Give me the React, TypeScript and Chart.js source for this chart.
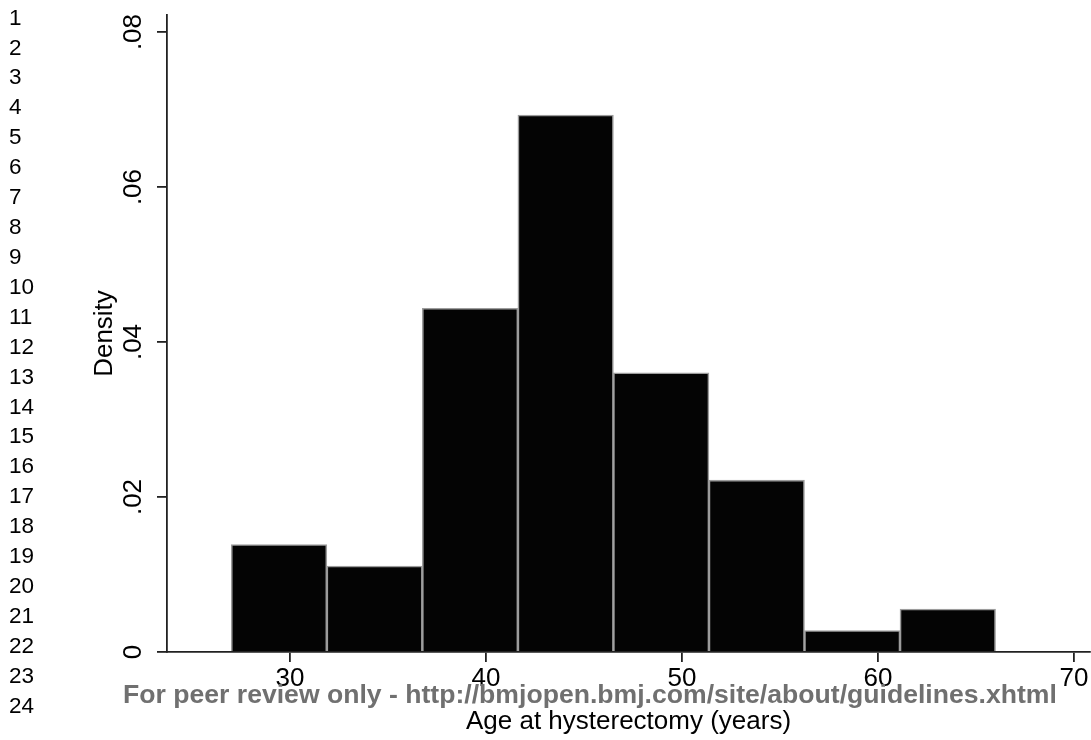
import React, { useEffect, useRef } from "react";
import { Chart, registerables } from "chart.js";

Chart.register(...registerables);

// Histogram: bin start edges (years) and density per bin
const binStarts = [27, 31.875, 36.75, 41.625, 46.5, 51.375, 56.25, 61.125];
const binWidth = 4.875;
const densities = [0.01386, 0.01109, 0.04435, 0.0693, 0.03604, 0.02218, 0.00277, 0.00554];

const xTicks = [30, 40, 50, 60, 70];
const yTicks = [0, 0.02, 0.04, 0.06, 0.08];

const xTitle = "Age at hysterectomy (years)";
const yTitle = "Density";
const watermark = "For peer review only - http://bmjopen.bmj.com/site/about/guidelines.xhtml";
const lineNumbers = Array.from({ length: 24 }, (_, i) => String(i + 1));

const FONT = "'Liberation Sans', Arial, Helvetica, sans-serif";

export default function App() {
  const ref = useRef<HTMLCanvasElement | null>(null);

  useEffect(() => {
    document.body.style.margin = "0";
    const canvas = ref.current;
    if (!canvas) return;
    const points = binStarts.map((s, i) => ({ x: s + binWidth / 2, y: densities[i] }));
    const chart = new Chart(canvas, {
      type: "bar",
      data: {
        datasets: [
          {
            data: points as any,
            backgroundColor: "#040404",
            borderColor: "#9c9c9c",
            borderWidth: 1.6,
            borderSkipped: "bottom",
            barPercentage: 1,
            categoryPercentage: 1,
          },
        ],
      },
      options: {
        responsive: false,
        animation: false,
        events: [],
        layout: { padding: { top: 15, right: 1, bottom: 0, left: 0 } },
        plugins: { legend: { display: false }, tooltip: { enabled: false } },
        scales: {
          x: {
            type: "linear",
            min: 23.72,
            max: 70.82,
            offset: false,
            afterFit: (s: any) => {
              s.height = 88;
              s.paddingLeft = 0;
              s.paddingRight = 0;
            },
            afterBuildTicks: (s: any) => {
              s.ticks = xTicks.map((v) => ({ value: v }));
            },
            grid: {
              offset: false,
              drawOnChartArea: false,
              drawTicks: true,
              tickLength: 10,
              color: "#222",
              lineWidth: 1.8,
            },
            border: { display: true, color: "#222", width: 1.8, z: 1 },
            ticks: {
              includeBounds: false,
              stepSize: 10,
              padding: 1,
              color: "#000",
              font: { family: FONT, size: 26 },
              maxRotation: 0,
              minRotation: 0,
              callback: (v: any) => String(v),
            },
            title: {
              display: true,
              text: xTitle,
              color: "#000",
              font: { family: FONT, size: 26 },
              padding: { top: 0, bottom: 2.5 },
            },
          },
          y: {
            type: "linear",
            min: 0,
            max: 0.0822,
            afterFit: (s: any) => {
              s.width = 167;
              s.paddingTop = 0;
              s.paddingBottom = 0;
            },
            afterBuildTicks: (s: any) => {
              s.ticks = yTicks.map((v) => ({ value: v }));
            },
            grid: {
              drawOnChartArea: false,
              drawTicks: true,
              tickLength: 10,
              color: "#222",
              lineWidth: 1.8,
            },
            border: { display: true, color: "#222", width: 1.8, z: 1 },
            ticks: {
              includeBounds: false,
              stepSize: 0.02,
              padding: 5.5,
              color: "#000",
              crossAlign: "center",
              minRotation: 90,
              maxRotation: 90,
              font: { family: FONT, size: 26 },
              callback: (v: any) => (Number(v) === 0 ? "0" : Number(v).toFixed(2).replace(/^0/, "")),
            },
            title: {
              display: true,
              text: yTitle,
              color: "#000",
              font: { family: FONT, size: 26 },
              padding: { top: 89.5, bottom: 0 },
            },
          },
        },
      },
    });
    return () => chart.destroy();
  }, []);

  return (
    <div style={{ position: "relative", width: 1091, height: 740, overflow: "hidden", background: "#fff" }}>
      <canvas ref={ref} width={1091} height={740} style={{ position: "absolute", left: 0, top: 0, display: "block" }} />
      {lineNumbers.map((n, i) => (
        <div
          key={n}
          style={{
            position: "absolute",
            left: 9,
            top: 6.6 + i * 29.92,
            fontFamily: FONT,
            fontSize: 22.5,
            lineHeight: "22.5px",
            color: "#000",
            whiteSpace: "nowrap",
          }}
        >
          {n}
        </div>
      ))}
      <div
        style={{
          position: "absolute",
          left: 123,
          top: 680.5,
          fontFamily: FONT,
          fontWeight: "bold",
          fontSize: 26.6,
          lineHeight: "26.6px",
          color: "#707070",
          whiteSpace: "nowrap",
        }}
      >
        {watermark}
      </div>
    </div>
  );
}
